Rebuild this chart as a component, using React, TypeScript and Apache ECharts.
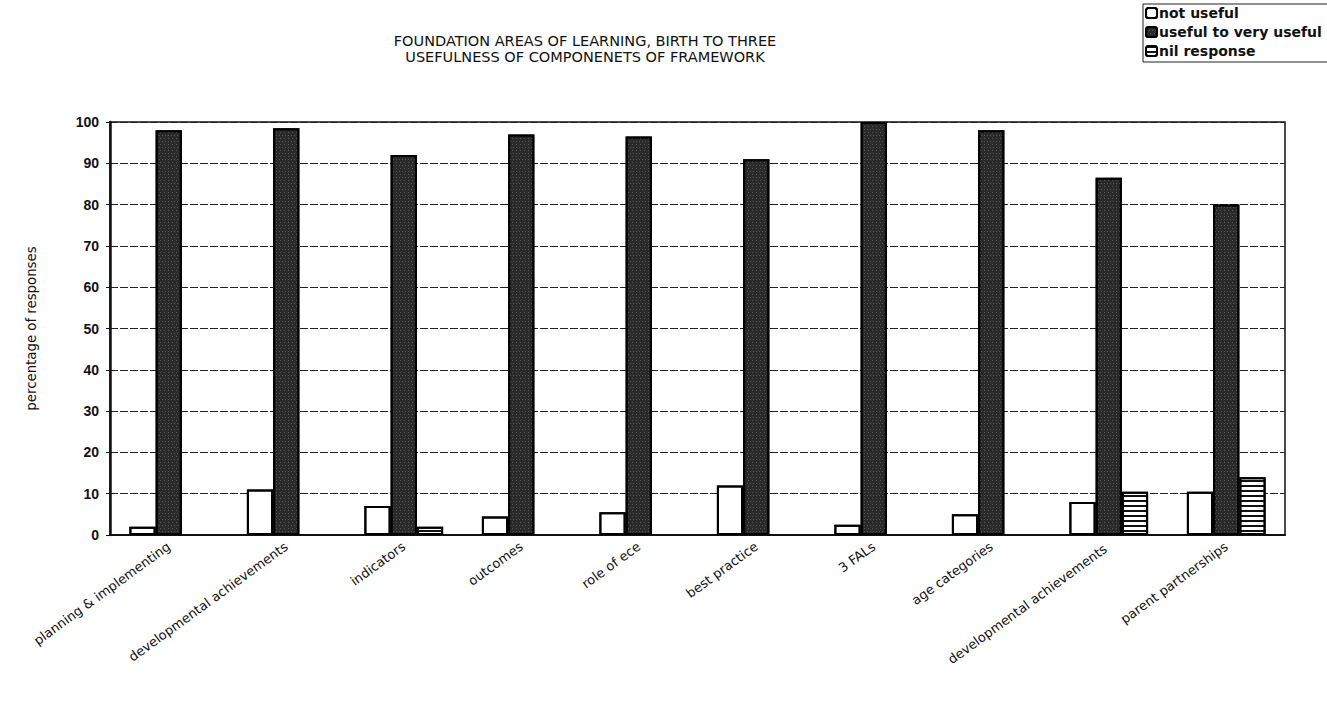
import React, { useEffect, useRef } from "react";
import * as echarts from "echarts";

const categories = [
  "planning & implementing",
  "developmental achievements",
  "indicators",
  "outcomes",
  "role of ece",
  "best practice",
  "3 FALs",
  "age categories",
  "developmental achievements ",
  "parent partnerships",
];
const notUseful = [2, 11, 7, 4.5, 5.5, 12, 2.5, 5, 8, 10.5];
const usefulToVeryUseful = [98, 98.5, 92, 97, 96.5, 91, 100, 98, 86.5, 80];
const nilResponse = [null, null, 2, null, null, null, null, null, 10.5, 14];
const yTicks = [0, 10, 20, 30, 40, 50, 60, 70, 80, 90, 100];

export default function App() {
  const ref = useRef<HTMLDivElement>(null);
  useEffect(() => {
    if (!ref.current) return;
    const chart = echarts.init(ref.current, null, { renderer: "svg" });
    const font = "'DejaVu Sans', sans-serif";
    const arial = "Arial, 'Liberation Sans', sans-serif";
    chart.setOption({
      animation: false,
      backgroundColor: "#fff",
      title: {
        text: "FOUNDATION AREAS OF LEARNING, BIRTH TO THREE\nUSEFULNESS OF COMPONENETS OF FRAMEWORK",
        left: 580,
        top: 28,
        textAlign: "center",
        textStyle: { fontFamily: font, fontSize: 14.5, fontWeight: "normal", color: "#111", lineHeight: 16 },
      },
      legend: {
        orient: "vertical",
        left: 1143,
        top: 4,
        itemWidth: 11,
        itemHeight: 10,
        itemGap: 5,
        padding: [2, 30, 4, 2],
        borderColor: "#222",
        borderWidth: 1,
        textStyle: { fontFamily: font, fontSize: 14, fontWeight: "bold", color: "#111", lineHeight: 14, padding: [0, 0, 0, -3] },
        data: ["not useful", "useful to very useful", "nil response"],
      },
      grid: {
        left: 110,
        right: 42,
        top: 122,
        bottom: 169,
        show: true,
        borderColor: "#111",
        borderWidth: 1.5,
      },
      xAxis: {
        type: "category",
        data: categories,
        axisLine: { lineStyle: { color: "#111", width: 2 } },
        axisTick: { show: false },
        axisLabel: {
          rotate: 36,
          interval: 0,
          fontFamily: font,
          fontSize: 13,
          color: "#111",
          margin: 10,
        },
      },
      yAxis: {
        type: "value",
        min: 0,
        max: 100,
        interval: 10,
        name: "percentage of responses",
        nameLocation: "middle",
        nameGap: 72,
        nameTextStyle: { fontFamily: font, fontSize: 13.3, color: "#111" },
        axisLine: { show: true, lineStyle: { color: "#111", width: 2.5 } },
        axisTick: { show: true, length: 4, lineStyle: { color: "#111" } },
        axisLabel: {
          fontFamily: arial,
          fontSize: 14,
          fontWeight: "bold",
          color: "#111",
          margin: 11,
          formatter: (v: number) => (yTicks.includes(v) ? String(v) : ""),
        },
        splitLine: { lineStyle: { color: "#222", width: 1, type: [8, 2] } },
      },
      series: [
        {
          name: "not useful",
          type: "bar",
          data: notUseful,
          barGap: "0%",
          barCategoryGap: "33%",
          itemStyle: {
            color: "#fff",
            borderColor: "#000",
            borderWidth: 2,
            decal: {
              symbol: "circle",
              symbolSize: 0.5,
              dashArrayX: [[1, 9]],
              dashArrayY: [2, 9],
              color: "#888",
            },
          },
        },
        {
          name: "useful to very useful",
          type: "bar",
          data: usefulToVeryUseful,
          itemStyle: {
            color: "#2a2a2a",
            borderColor: "#000",
            borderWidth: 2,
            decal: {
              symbol: "rect",
              symbolSize: 0.6,
              dashArrayX: [[1, 2], [1, 3]],
              dashArrayY: [1, 2],
              color: "#bdbdbd",
            },
          },
        },
        {
          name: "nil response",
          type: "bar",
          data: nilResponse,
          itemStyle: {
            color: "#fff",
            borderColor: "#000",
            borderWidth: 2,
            decal: {
              symbol: "rect",
              symbolSize: 1,
              dashArrayX: [[1, 0]],
              dashArrayY: [1.5, 2.5],
              color: "#111",
            },
          },
        },
      ],
    });
    return () => chart.dispose();
  }, []);
  return (
    <div
      ref={ref}
      style={{ position: "absolute", left: 0, top: 0, width: 1327, height: 704 }}
    />
  );
}
